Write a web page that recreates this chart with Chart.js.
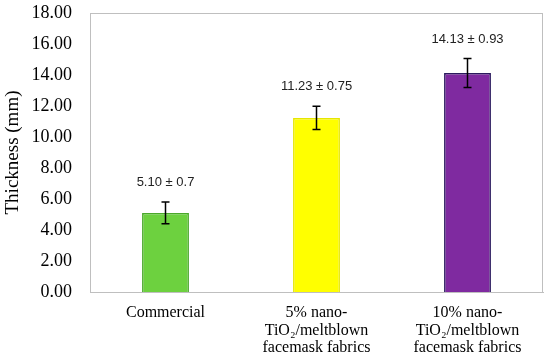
<!DOCTYPE html>
<html>
<head>
<meta charset="utf-8">
<script src="https://cdn.jsdelivr.net/npm/chart.js@4"></script>
<style>
  html, body { margin: 0; padding: 0; background: #fff; }
  #wrap { width: 550px; height: 360px; }
</style>
</head>
<body>
<div id="wrap"><canvas id="chart"></canvas></div>
<script>
// Data
const categories = [
  'Commercial',
  ['5% nano-', 'TiO\u2082/meltblown', 'facemask fabrics'],
  ['10% nano-', 'TiO\u2082/meltblown', 'facemask fabrics'],
];
const thickness = [5.10, 11.23, 14.13];
const thicknessErr = [0.7, 0.75, 0.93];
const valueLabels = ['5.10 \u00b1 0.7', '11.23 \u00b1 0.75', '14.13 \u00b1 0.93'];

const barColors = ['#6dd13f', '#ffff00', '#7f2aa0'];
const barBorders = ['#4aa82a', '#e6e600', '#2b1a5e'];

const SERIF = '"Liberation Serif", "Times New Roman", serif';

// Draws the frame round the plot area, error bars and value labels
const extras = {
  id: 'extras',
  afterDatasetsDraw(chart) {
    const { ctx, chartArea } = chart;
    const y = chart.scales.y;
    const meta = chart.getDatasetMeta(0);

    ctx.save();
    ctx.strokeStyle = '#bfbfbf';
    ctx.lineWidth = 1;
    ctx.strokeRect(chartArea.left + 0.5, chartArea.top + 0.5,
      chartArea.right - chartArea.left - 1, chartArea.bottom - chartArea.top);

    ctx.strokeStyle = '#000';
    ctx.lineWidth = 1.5;
    ctx.fillStyle = '#222';
    ctx.font = '13px "Liberation Sans", Arial, sans-serif';
    ctx.textAlign = 'center';
    ctx.textBaseline = 'alphabetic';

    meta.data.forEach((bar, i) => {
      const x = bar.x;
      const top = y.getPixelForValue(thickness[i] + thicknessErr[i]);
      const bot = y.getPixelForValue(thickness[i] - thicknessErr[i]);
      ctx.beginPath();
      ctx.moveTo(x, top); ctx.lineTo(x, bot);
      ctx.moveTo(x - 4, top); ctx.lineTo(x + 4, top);
      ctx.moveTo(x - 4, bot); ctx.lineTo(x + 4, bot);
      ctx.stroke();
      ctx.fillText(valueLabels[i], x, top - 16);
    });
    ctx.restore();
  }
};

new Chart(document.getElementById('chart'), {
  type: 'bar',
  data: {
    labels: categories,
    datasets: [{
      data: thickness,
      backgroundColor: barColors,
      borderColor: barBorders,
      borderWidth: 1.5,
      categoryPercentage: 1,
      barPercentage: 0.31,
    }],
  },
  options: {
    responsive: true,
    maintainAspectRatio: false,
    animation: false,
    layout: { padding: { top: 0, right: 7, left: 0, bottom: 0 } },
    plugins: {
      legend: { display: false },
      tooltip: { enabled: false },
    },
    scales: {
      x: {
        grid: { display: false, drawTicks: false },
        border: { display: true, color: '#bfbfbf' },
        afterFit: s => { s.height = 68; },
        ticks: {
          color: '#000',
          padding: 12,
          maxRotation: 0,
          autoSkip: false,
          font: { family: SERIF, size: 16, lineHeight: 1.1 },
        },
      },
      y: {
        min: 0,
        max: 18,
        grid: { display: false, drawTicks: false },
        border: { display: true, color: '#bfbfbf' },
        afterFit: s => { s.width = 90; s.paddingTop = 13; s.paddingBottom = 0; },
        ticks: {
          stepSize: 2,
          color: '#000',
          padding: 18,
          font: { family: SERIF, size: 18 },
          callback: v => v.toFixed(2),
        },
        title: {
          display: true,
          text: 'Thickness (mm)',
          color: '#000',
          padding: { top: 4, bottom: 0 },
          font: { family: SERIF, size: 19, lineHeight: 1 },
        },
      },
    },
  },
  plugins: [extras],
});
</script>
</body>
</html>
